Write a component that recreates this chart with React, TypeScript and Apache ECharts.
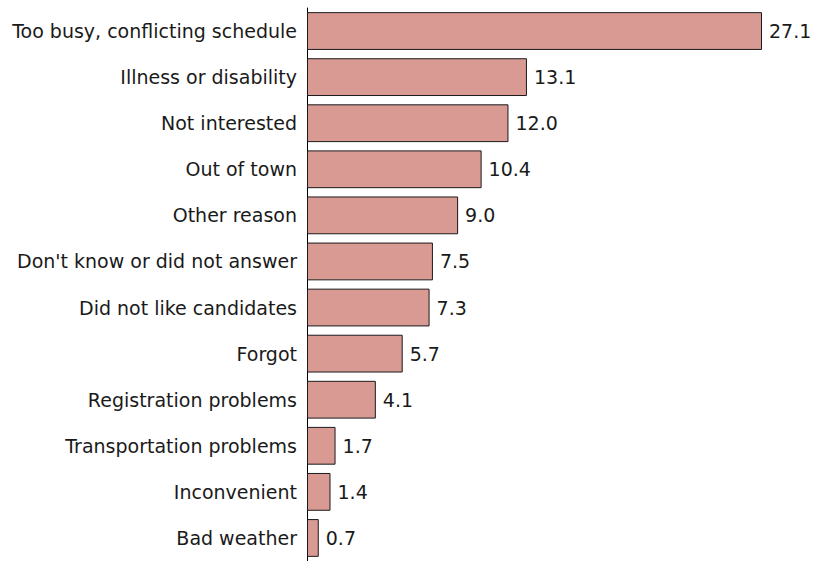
import React, { useEffect, useRef } from "react";
import * as echarts from "echarts";

const categories = [
  "Too busy, conflicting schedule",
  "Illness or disability",
  "Not interested",
  "Out of town",
  "Other reason",
  "Don't know or did not answer",
  "Did not like candidates",
  "Forgot",
  "Registration problems",
  "Transportation problems",
  "Inconvenient",
  "Bad weather",
];
const values = [27.1, 13.1, 12.0, 10.4, 9.0, 7.5, 7.3, 5.7, 4.1, 1.7, 1.4, 0.7];

export default function App() {
  const ref = useRef<HTMLDivElement>(null);
  useEffect(() => {
    const chart = echarts.init(ref.current!, null, { renderer: "svg" });
    const font = "DejaVu Sans";
    chart.setOption({
      animation: false,
      grid: { left: 307, top: 8, width: 30 * 16.79, height: 554, containLabel: false },
      xAxis: {
        type: "value",
        min: 0,
        max: 30,
        show: false,
      },
      yAxis: {
        type: "category",
        data: categories,
        inverse: true,
        axisLine: { show: true, lineStyle: { color: "#000", width: 1 } },
        axisTick: { show: false },
        axisLabel: {
          color: "#1a1a1a",
          fontSize: 19,
          fontFamily: font,
          margin: 10,
          padding: [7, 0, 0, 0],
        },
      },
      series: [
        {
          type: "bar",
          data: values,
          barCategoryGap: "18%",
          itemStyle: { color: "#d99a94", borderColor: "#1a1a1a", borderWidth: 1 },
          label: {
            show: true,
            position: "right",
            distance: 7,
            formatter: (p: any) => p.value.toFixed(1),
            color: "#1a1a1a",
            fontSize: 19,
            fontFamily: font,
            padding: [7, 0, 0, 0],
          },
        },
      ],
    });
    return () => chart.dispose();
  }, []);
  return <div ref={ref} style={{ width: 819, height: 561, position: "absolute", left: 0, top: 0 }} />;
}
